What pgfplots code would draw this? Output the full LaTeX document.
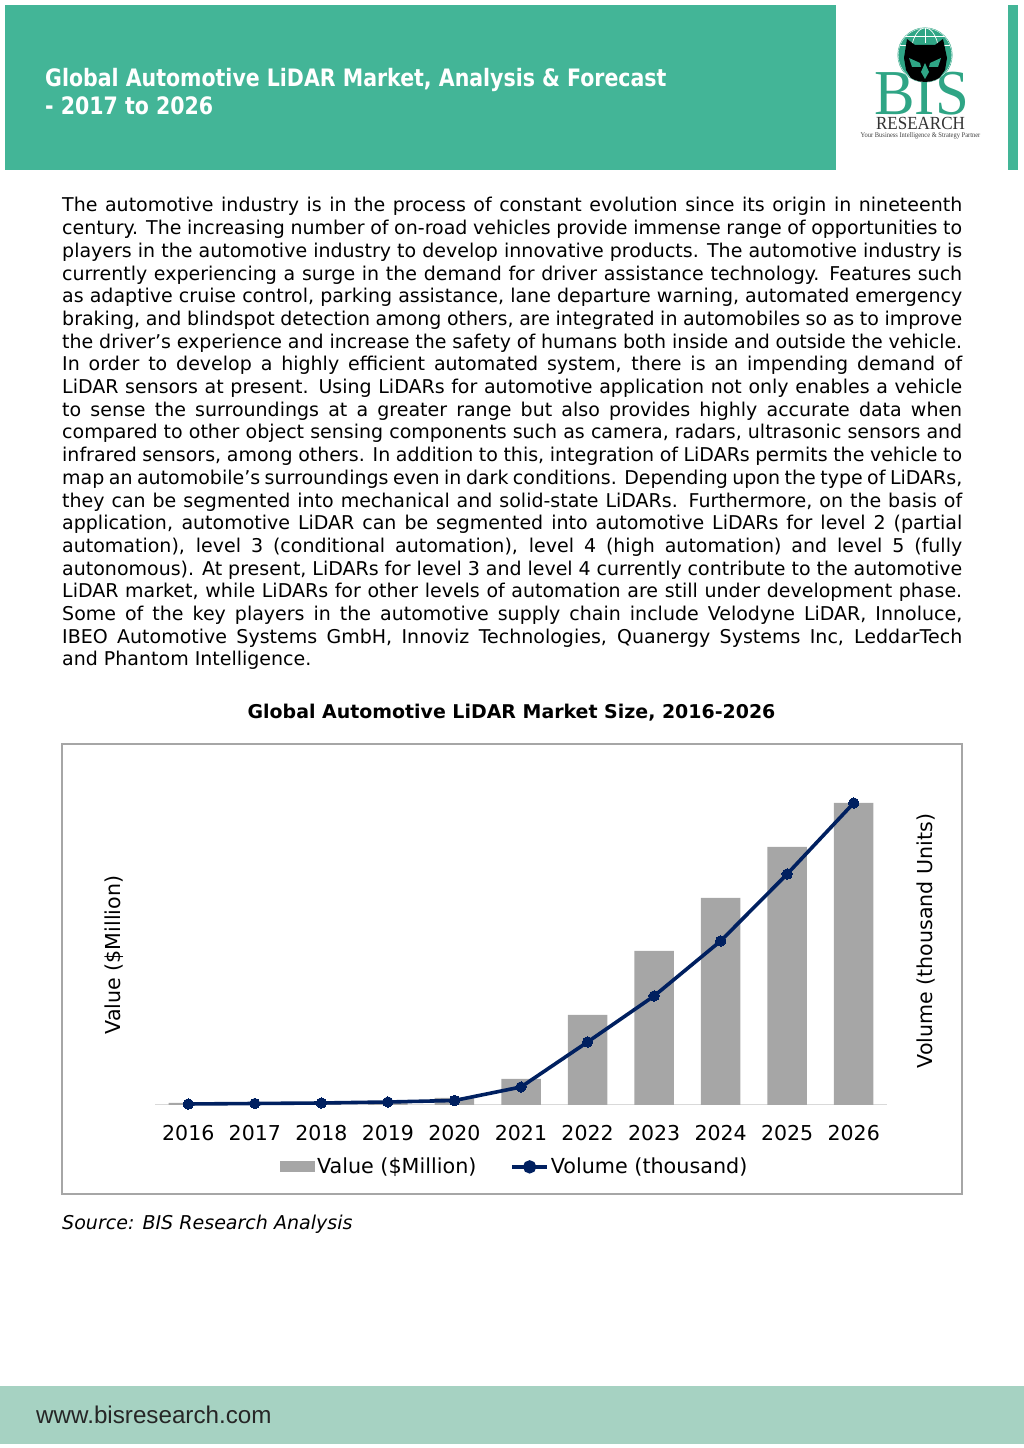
\documentclass[border=0pt]{standalone}
\usepackage{fontspec}
\usepackage{pgfplots}
\pgfplotsset{compat=1.18}
\setmainfont{DejaVu Sans}
\newfontfamily\titlefont{DejaVu Sans Condensed}[FakeStretch=0.95]
\newfontfamily\logofont{Liberation Serif}
\newfontfamily\webfont{Liberation Sans}
\definecolor{banner}{HTML}{43B597}
\definecolor{foot}{HTML}{A6D2C2}
\definecolor{barc}{HTML}{A6A6A6}
\definecolor{linec}{HTML}{002060}
\definecolor{logot}{HTML}{2FA585}
\newcommand{\Ln}[1]{\hbox to 900pt{#1}}
\hbadness=10000 \hfuzz=30pt
\begin{document}
\begin{tikzpicture}[x=1pt,y=1pt]
\path[use as bounding box] (0,0) rectangle (1024,1448);
% banner
\fill[banner] (5,1443) rectangle (836,1278);
\fill[banner] (1008,1443) rectangle (1018,1278);
\fill[foot] (0,62) rectangle (1024,4);
\node[anchor=base west,inner sep=0,text=white,font=\titlefont\bfseries\fontsize{24}{28}\selectfont] at (45,1361) {Global Automotive LiDAR Market, Analysis \& Forecast};
\node[anchor=base west,inner sep=0,text=white,font=\titlefont\bfseries\fontsize{24}{28}\selectfont] at (45,1333) {- 2017 to 2026};
% logo
\node[anchor=base,inner sep=0,xscale=.95,text=logot,font=\logofont\fontsize{64}{64}\selectfont] at (921.5,1333) {BIS};
\fill[logot] (925,1393) circle (27.5);
\begin{scope}
\clip (925,1393) circle (27);
\draw[white,line width=.7] (925,1393) ellipse (14 and 27) (925,1393) ellipse (27 and 27);
\draw[white,line width=.7] (898,1403)--(952,1403) (898,1412)--(952,1412) (925,1420)--(925,1405);
\fill[black] (907,1409) -- (915,1403) -- (935,1403) -- (943,1409) -- (947,1390) -- (945,1378) -- (938,1368) -- (925,1364) -- (912,1368) -- (906,1378) -- (904,1390) -- cycle;
\fill[logot] (909,1390) -- (920,1385) -- (921,1381) -- (912,1381) -- cycle;
\fill[logot] (941,1390) -- (930,1385) -- (929,1381) -- (938,1381) -- cycle;
\fill[logot] (925,1385) -- (929,1376) -- (925,1369) -- (921,1376) -- cycle;
\end{scope}
\node[anchor=base,inner sep=0,xscale=.92,text=black!80,font=\logofont\fontsize{18.5}{18}\selectfont] at (920.5,1318) {RESEARCH};
\node[anchor=base,inner sep=0,xscale=.9,text=black!75,font=\logofont\fontsize{7.2}{7}\selectfont] at (920.5,1310) {Your Business Intelligence \& Strategy Partner};
% body
\node[anchor=base west,inner sep=0,font=\fontsize{19}{22.7}\selectfont] at (62,1236) {\vtop{\hsize=900pt\baselineskip=22.7pt
\Ln{The automotive industry is in the process of constant evolution since its origin in nineteenth}
\Ln{century. The increasing number of on-road vehicles provide immense range of opportunities to}
\Ln{players in the automotive industry to develop innovative products. The automotive industry is}
\Ln{currently experiencing a surge in the demand for driver assistance technology. Features such}
\Ln{as adaptive cruise control, parking assistance, lane departure warning, automated emergency}
\Ln{braking, and blindspot detection among others, are integrated in automobiles so as to improve}
\Ln{the driver’s experience and increase the safety of humans both inside and outside the vehicle.}
\Ln{In order to develop a highly efficient automated system, there is an impending demand of}
\Ln{LiDAR sensors at present. Using LiDARs for automotive application not only enables a vehicle}
\Ln{to sense the surroundings at a greater range but also provides highly accurate data when}
\Ln{compared to other object sensing components such as camera, radars, ultrasonic sensors and}
\Ln{infrared sensors, among others. In addition to this, integration of LiDARs permits the vehicle to}
\Ln{map an automobile’s surroundings even in dark conditions. Depending upon the type of LiDARs,}
\Ln{they can be segmented into mechanical and solid-state LiDARs. Furthermore, on the basis of}
\Ln{application, automotive LiDAR can be segmented into automotive LiDARs for level 2 (partial}
\Ln{automation), level 3 (conditional automation), level 4 (high automation) and level 5 (fully}
\Ln{autonomous). At present, LiDARs for level 3 and level 4 currently contribute to the automotive}
\Ln{LiDAR market, while LiDARs for other levels of automation are still under development phase.}
\Ln{Some of the key players in the automotive supply chain include Velodyne LiDAR, Innoluce,}
\Ln{IBEO Automotive Systems GmbH, Innoviz Technologies, Quanergy Systems Inc, LeddarTech}
\Ln{and Phantom Intelligence.\hfil}
}};
\node[anchor=base,inner sep=0,font=\bfseries\fontsize{18.95}{22}\selectfont] at (511.5,729) {Global Automotive LiDAR Market Size, 2016-2026};
\draw[barc,line width=1.8] (62,704) rectangle (962,254);
\node[anchor=base west,inner sep=0,font=\itshape\fontsize{19.05}{22}\selectfont] at (62,218) {Source: BIS Research Analysis};
\node[anchor=base west,inner sep=0,text=black!85,font=\webfont\fontsize{24.2}{28}\selectfont] at (36,24) {www.bisresearch.com};
\begin{axis}[
  at={(155pt,343pt)},anchor=south west,
  scale only axis,width=732pt,height=340pt,
  xmin=-0.5,xmax=10.5,ymin=0,ymax=340,
  hide y axis,
  axis x line=bottom,
  x axis line style={-,draw=black!15,line width=1},
  major tick length=0pt,
  xtick=data,
  xticklabels={2016,2017,2018,2019,2020,2021,2022,2023,2024,2025,2026},
  xticklabel style={font=\fontsize{20.5}{24}\selectfont,yshift=-17pt},
  clip=false,
  legend columns=2,
  legend style={at={(axis description cs:0.4915,-0.182)},anchor=center,draw=none,fill=none,
    font=\fontsize{20.7}{24}\selectfont,inner sep=0pt,
    /tikz/every even column/.append style={column sep=32pt}},
]
\addplot[ybar,bar width=39.5pt,fill=barc,draw=none,
  legend image code/.code={\fill[barc] (-0.1cm,-5.5pt) rectangle (32pt,5.5pt);}]
  coordinates {(0,2)(1,1.5)(2,1.5)(3,2)(4,7)(5,26)(6,90)(7,154)(8,207)(9,258)(10,302)};
\addlegendentry{Value (\$Million)}
\addplot[linec,line width=3.6pt,mark=*,mark size=5.2pt,mark options={fill=linec,draw=linec,line width=0pt},
  legend image code/.code={\draw[linec,line width=3.4pt] (0pt,0pt)--(35pt,0pt);\fill[linec] (17.5pt,0pt) circle (4.8pt);}]
  coordinates {(0,1)(1,1.5)(2,2)(3,3)(4,4.5)(5,18)(6,63)(7,109)(8,164)(9,231)(10,302)};
\addlegendentry{Volume (thousand)}
\node[rotate=90,anchor=center,font=\fontsize{20.6}{24}\selectfont] at (axis description cs:-0.056,0.441) {Value (\$Million)};
\node[rotate=90,anchor=center,font=\fontsize{20.6}{24}\selectfont] at (axis description cs:1.0533,0.482) {Volume (thousand Units)};
\end{axis}
\end{tikzpicture}
\end{document}
